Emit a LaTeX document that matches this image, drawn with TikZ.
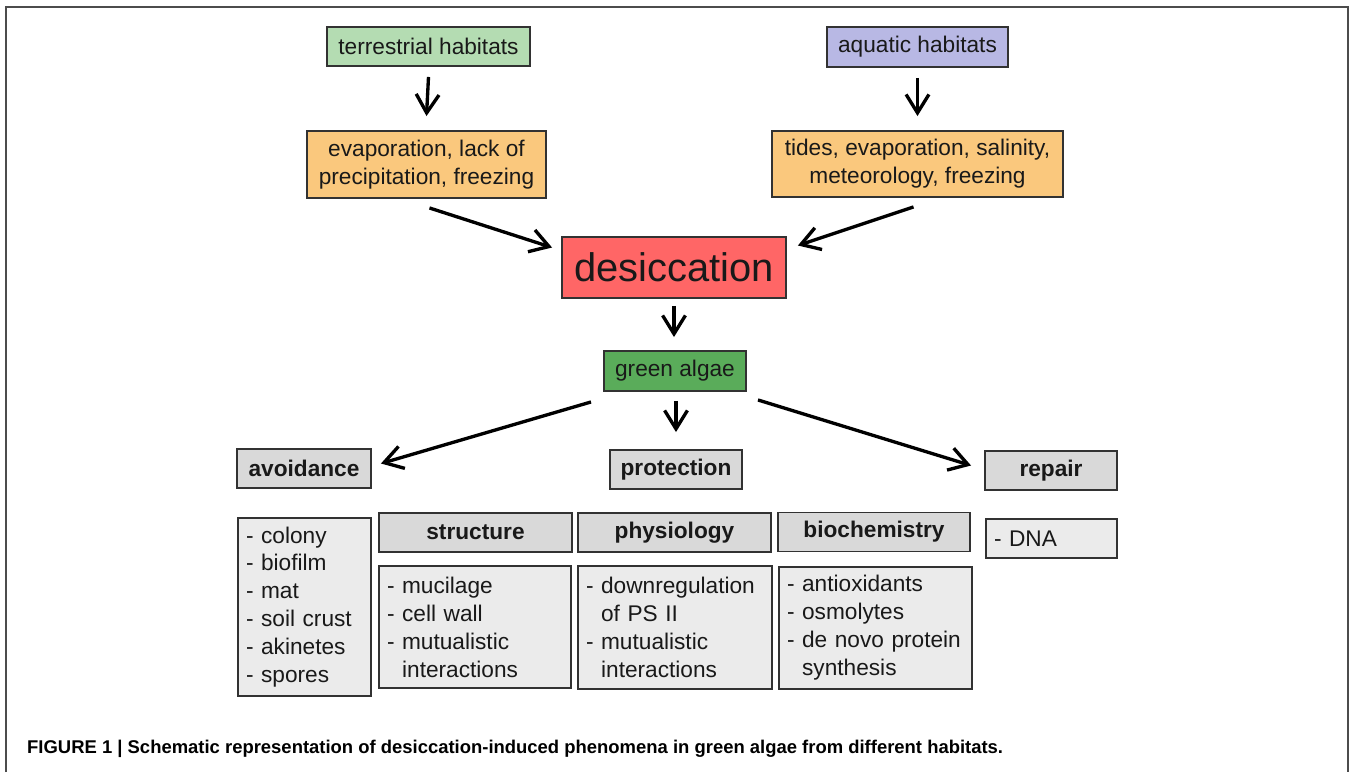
\documentclass[tikz,border=0pt]{standalone}
\usepackage{fontspec}
\setmainfont{Liberation Sans}
\usepackage{xcolor}
\usetikzlibrary{arrows.meta,calc}
\definecolor{terrgreen}{RGB}{180,220,178}
\definecolor{aqualilac}{RGB}{184,184,228}
\definecolor{evaporange}{RGB}{250,200,125}
\definecolor{desicred}{RGB}{255,102,102}
\definecolor{algaegreen}{RGB}{90,172,90}
\definecolor{headgray}{RGB}{217,217,217}
\definecolor{listgray}{RGB}{235,235,235}
\definecolor{boxline}{RGB}{50,50,50}

\begin{document}
\begin{tikzpicture}[x=0.02cm,y=-0.02cm,
  box/.style={draw=boxline,line width=1.1pt,inner sep=0pt,align=center,text=black!90,
    font=\fontsize{12.9}{15.9}\selectfont},
  head/.style={box,fill=headgray,font=\fontsize{12.9}{15.9}\selectfont\bfseries,minimum height=7.8mm},
  lst/.style={box,fill=listgray,align=left,inner xsep=1.6mm},
  arr/.style={line width=1.9pt,-{Straight Barb[length=10.5pt,width=13pt,line width=1.9pt]}}]
\useasboundingbox (0,0) rectangle (1350,772);
\draw[line width=1pt,black!70] (6,772) -- (6,7) -- (1348,7) -- (1348,772);

\node [box,fill=terrgreen,minimum width=40.6mm,minimum height=7.8mm] (terr) at (428.5,46.5) {terrestrial habitats};
\node [box,fill=aqualilac,minimum width=36.2mm,minimum height=8mm] (aqua) at (917.5,47) {aquatic habitats};
\node [box,fill=evaporange,minimum width=47.8mm,minimum height=13.4mm] (evap) at (426.5,164.5) {evaporation, lack of\\precipitation, freezing};
\node [box,fill=evaporange,minimum width=58.2mm,minimum height=13.2mm] (tides) at (917.5,164) {tides, evaporation, salinity,\\meteorology, freezing};
\node [box,fill=desicred,minimum width=44.8mm,minimum height=12.2mm,font=\fontsize{22.7}{26}\selectfont] (desic) at (674,267.5) {desiccation};
\node [box,fill=algaegreen,minimum width=28.4mm,minimum height=8mm] (algae) at (675,371) {green algae};

\node [head,minimum width=26.8mm] (avoid) at (304,468.5) {avoidance};
\node [head,minimum width=26.4mm] (prot) at (676,469.5) {protection};
\node [head,minimum width=26.4mm] (repair) at (1051,470.5) {repair};

\node [head,minimum width=38.6mm] (struct) at (475.5,532.5) {structure};
\node [head,minimum width=38.6mm] (phys) at (674.5,532.5) {physiology};
\node [head,minimum width=38.4mm] (bio) at (874,532) {biochemistry};

\node [lst,text width=23.4mm,minimum height=35.6mm] (avoidl) at (304.5,607)
  {- colony\\- biofilm\\- mat\\- soil crust\\- akinetes\\- spores};
\node [lst,text width=35.2mm,minimum height=24.4mm] (structl) at (475,627)
  {- mucilage\\- cell wall\\- mutualistic\\\phantom{- }interactions};
\node [lst,text width=35.6mm,minimum height=24.6mm] (physl) at (675,627.5)
  {- downregulation\\\phantom{- }of PS II\\- mutualistic\\\phantom{- }interactions};
\node [lst,text width=35.4mm,minimum height=24.4mm] (biol) at (875.5,628)
  {- antioxidants\\- osmolytes\\\mbox{- de novo protein}\\\phantom{- }synthesis};
\node [lst,text width=23mm,minimum height=7.8mm] (dna) at (1051.5,538.5) {- DNA};

\draw[arr] ($(terr.south)+(0,10)$) -- ($(evap.north)+(0,-14)$);
\draw[arr] ($(aqua.south)+(0,10)$) -- ($(tides.north)+(0,-14)$);
\draw[arr] ($(evap.south)+(3,9)$) -- ($(desic.west)+(-9,-20)$);
\draw[arr] ($(tides.south)+(-4,9)$) -- ($(desic.east)+(11,-22)$);
\draw[arr] ($(desic.south)+(0,7)$) -- ($(algae.north)+(-1,-13)$);
\draw[arr] ($(algae.south)+(-84,10)$) -- ($(avoid.east)+(9,-5)$);
\draw[arr] ($(algae.south)+(1,9)$) -- ($(prot.north)+(0,-17)$);
\draw[arr] ($(algae.south)+(83,8)$) -- ($(repair.west)+(-13,-5)$);

\node [anchor=west,font=\fontsize{10.5}{12}\selectfont\bfseries] (cap) at (21,749)
  {FIGURE 1 | Schematic representation of desiccation-induced phenomena in green algae from different habitats.};
\end{tikzpicture}
\end{document}
